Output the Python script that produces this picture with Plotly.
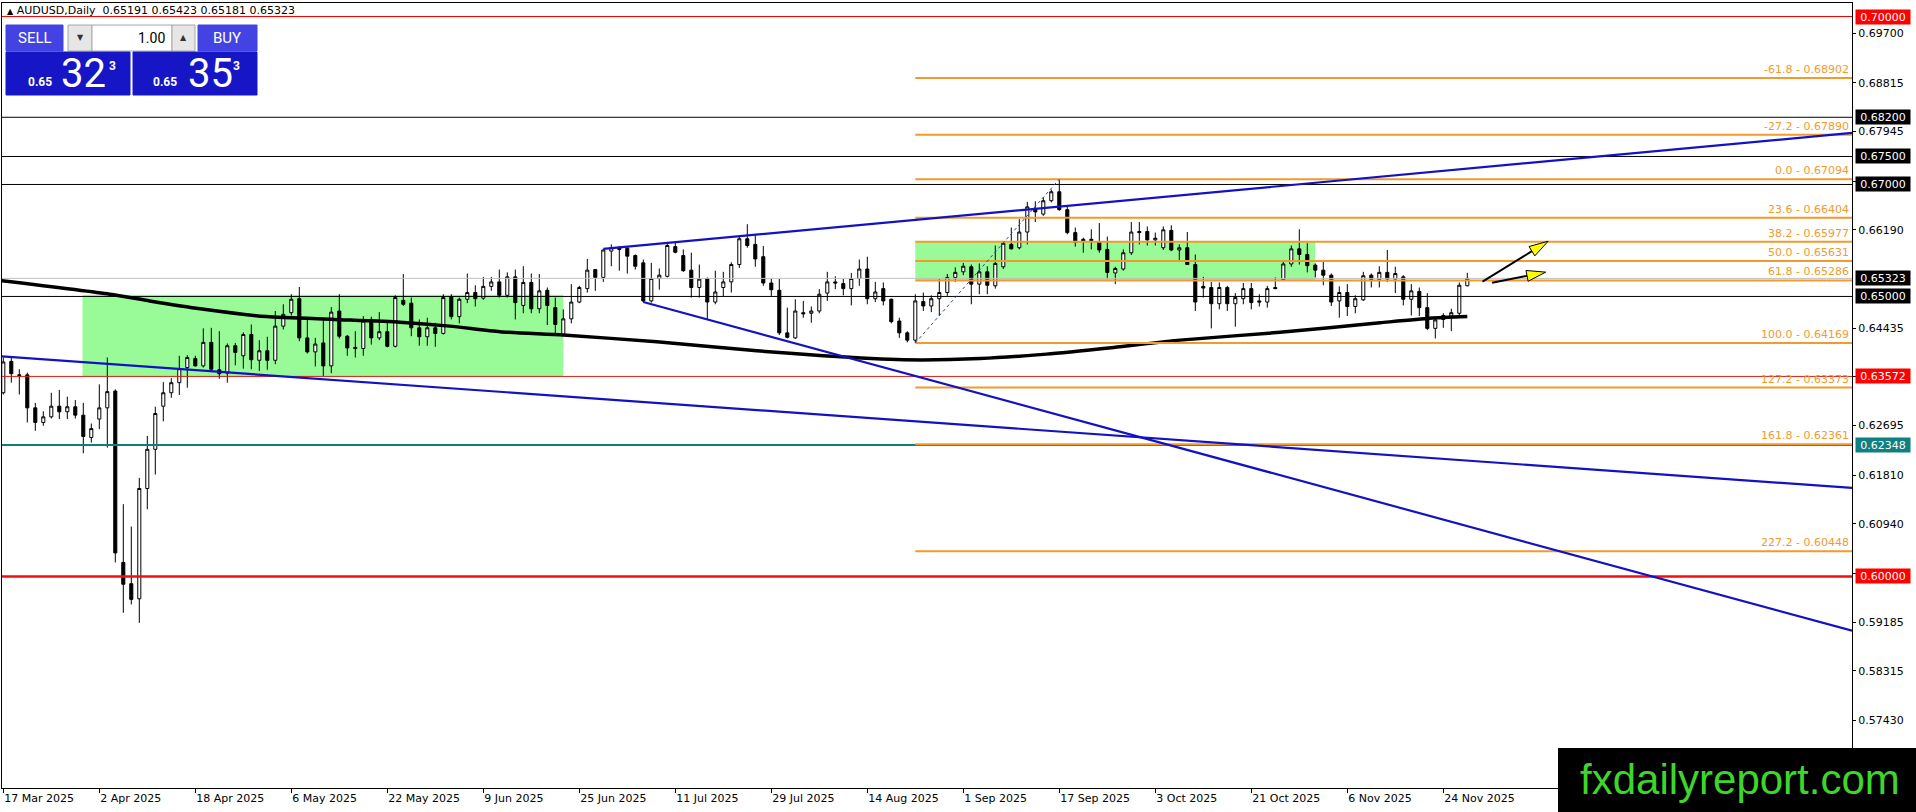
import plotly.graph_objects as go

# ---------------- data ----------------
tick_bars = [0, 12, 24, 36, 48, 60, 72, 84, 96, 108, 120, 132, 144, 156, 168, 180]
tick_labels = ["17 Mar 2025", "2 Apr 2025", "18 Apr 2025", "6 May 2025", "22 May 2025", "9 Jun 2025",
               "25 Jun 2025", "11 Jul 2025", "29 Jul 2025", "14 Aug 2025", "1 Sep 2025", "17 Sep 2025",
               "3 Oct 2025", "21 Oct 2025", "6 Nov 2025", "24 Nov 2025"]

opens = [0.6328, 0.6384, 0.6360, 0.6360, 0.6301, 0.6275, 0.6285, 0.6304, 0.6294, 0.6303,
         0.6288, 0.6248, 0.6281, 0.6301, 0.6331, 0.6025, 0.5987, 0.5960, 0.6157, 0.6227,
         0.6304, 0.6328, 0.6346, 0.6373, 0.6389, 0.6376, 0.6418, 0.6369, 0.6363, 0.6412,
         0.6394, 0.6432, 0.6386, 0.6403, 0.6386, 0.6447, 0.6471, 0.6496, 0.6426, 0.6401,
         0.6417, 0.6376, 0.6474, 0.6429, 0.6409, 0.6407, 0.6459, 0.6426, 0.6437, 0.6411,
         0.6493, 0.6488, 0.6444, 0.6428, 0.6444, 0.6434, 0.6500, 0.6464, 0.6495, 0.6507,
         0.6497, 0.6518, 0.6526, 0.6502, 0.6535, 0.6484, 0.6525, 0.6478, 0.6511, 0.6480,
         0.6432, 0.6460, 0.6490, 0.6514, 0.6548, 0.6534, 0.6581, 0.6587, 0.6586, 0.6573,
         0.6560, 0.6492, 0.6532, 0.6536, 0.6589, 0.6573, 0.6547, 0.6516, 0.6532, 0.6490,
         0.6516, 0.6526, 0.6557, 0.6603, 0.6593, 0.6571, 0.6524, 0.6511, 0.6435, 0.6426,
         0.6471, 0.6470, 0.6474, 0.6506, 0.6526, 0.6523, 0.6514, 0.6532, 0.6549, 0.6496,
         0.6514, 0.6495, 0.6456, 0.6435, 0.6422, 0.6491, 0.6483, 0.6496, 0.6507, 0.6534,
         0.6544, 0.6553, 0.6522, 0.6544, 0.6519, 0.6553, 0.6593, 0.6587, 0.6615, 0.6656,
         0.6647, 0.6671, 0.6687, 0.6655, 0.6614, 0.6602, 0.6602, 0.6597, 0.6584, 0.6542,
         0.6549, 0.6578, 0.6616, 0.6616, 0.6601, 0.6587, 0.6618, 0.6583, 0.6587, 0.6557,
         0.6518, 0.6516, 0.6487, 0.6516, 0.6487, 0.6496, 0.6514, 0.6492, 0.6490, 0.6516,
         0.6530, 0.6558, 0.6585, 0.6575, 0.6556, 0.6547, 0.6538, 0.6492, 0.6507, 0.6482,
         0.6494, 0.6538, 0.6530, 0.6543, 0.6531, 0.6535, 0.6495, 0.6509, 0.6480, 0.6443,
         0.6466, 0.6465, 0.6470, 0.65191]
highs = [0.6391, 0.6392, 0.6370, 0.6364, 0.6310, 0.6295, 0.6328, 0.6333, 0.6321, 0.6315,
         0.6310, 0.6273, 0.6343, 0.6391, 0.6334, 0.6129, 0.6089, 0.6176, 0.6251, 0.6303,
         0.6347, 0.6354, 0.6394, 0.6395, 0.6394, 0.6443, 0.6444, 0.6438, 0.6416, 0.6417,
         0.6436, 0.6450, 0.6422, 0.6428, 0.6474, 0.6486, 0.6504, 0.6517, 0.6459, 0.6426,
         0.6462, 0.6481, 0.6504, 0.6431, 0.6438, 0.6465, 0.6464, 0.6472, 0.6453, 0.6502,
         0.6540, 0.6498, 0.6459, 0.6462, 0.6453, 0.6504, 0.6504, 0.6498, 0.6541, 0.6520,
         0.6535, 0.6535, 0.6548, 0.6543, 0.6548, 0.6554, 0.6541, 0.6540, 0.6516, 0.6498,
         0.6477, 0.6522, 0.6519, 0.6567, 0.6548, 0.6584, 0.6593, 0.6590, 0.6590, 0.6575,
         0.6566, 0.6560, 0.6550, 0.6596, 0.6596, 0.6584, 0.6578, 0.6557, 0.6534, 0.6546,
         0.6544, 0.6561, 0.6608, 0.6629, 0.6611, 0.6590, 0.6532, 0.6531, 0.6480, 0.6495,
         0.6492, 0.6482, 0.6513, 0.6544, 0.6536, 0.6531, 0.6542, 0.6566, 0.6571, 0.6526,
         0.6525, 0.6496, 0.6462, 0.6438, 0.6504, 0.6507, 0.6502, 0.6531, 0.6540, 0.6552,
         0.6560, 0.6557, 0.6559, 0.6554, 0.6591, 0.6599, 0.6623, 0.6638, 0.6669, 0.6670,
         0.6677, 0.6691, 0.67094, 0.6662, 0.6623, 0.6605, 0.6620, 0.6631, 0.6607, 0.6553,
         0.6584, 0.6633, 0.6633, 0.6625, 0.6614, 0.6625, 0.6627, 0.6593, 0.6615, 0.6575,
         0.6535, 0.6526, 0.6525, 0.6519, 0.6506, 0.6524, 0.6524, 0.6504, 0.6519, 0.6534,
         0.6565, 0.6591, 0.6620, 0.6595, 0.6559, 0.6564, 0.6541, 0.6518, 0.6522, 0.6502,
         0.6544, 0.6541, 0.6554, 0.6583, 0.6553, 0.6538, 0.6522, 0.6516, 0.6506, 0.6460,
         0.6470, 0.6478, 0.6525, 0.65423]
lows = [0.6325, 0.6346, 0.6325, 0.6275, 0.6260, 0.6269, 0.6282, 0.6281, 0.6281, 0.6282,
        0.6220, 0.6239, 0.6263, 0.6230, 0.6025, 0.5935, 0.5950, 0.5917, 0.6120, 0.6182,
        0.6277, 0.6319, 0.6324, 0.6337, 0.6375, 0.6373, 0.6365, 0.6353, 0.6346, 0.6377,
        0.6371, 0.6370, 0.6367, 0.6369, 0.6379, 0.6441, 0.6466, 0.6420, 0.6398, 0.6375,
        0.6358, 0.6363, 0.6425, 0.6394, 0.6391, 0.6394, 0.6414, 0.6422, 0.6409, 0.6409,
        0.6483, 0.6429, 0.6412, 0.6412, 0.6410, 0.6432, 0.6459, 0.6452, 0.6488, 0.6482,
        0.6494, 0.6510, 0.6498, 0.6498, 0.6459, 0.6470, 0.6470, 0.6470, 0.6449, 0.6434,
        0.6429, 0.6452, 0.6488, 0.6507, 0.6510, 0.6526, 0.6554, 0.6546, 0.6541, 0.6548,
        0.6489, 0.6489, 0.6512, 0.6534, 0.6577, 0.6544, 0.6498, 0.6498, 0.6459, 0.6486,
        0.6500, 0.6507, 0.6551, 0.6587, 0.6553, 0.6519, 0.6500, 0.6431, 0.6425, 0.6424,
        0.6462, 0.6453, 0.6470, 0.6492, 0.6513, 0.6502, 0.6484, 0.6519, 0.6486, 0.6490,
        0.6484, 0.6452, 0.6426, 0.6418, 0.64169, 0.6474, 0.6472, 0.6465, 0.6501, 0.6526,
        0.6538, 0.6486, 0.6504, 0.6504, 0.6514, 0.6549, 0.6584, 0.6584, 0.6593, 0.6633,
        0.6644, 0.6668, 0.6653, 0.6611, 0.6589, 0.6578, 0.6584, 0.6578, 0.6531, 0.6522,
        0.6546, 0.6574, 0.6593, 0.6591, 0.6591, 0.6583, 0.6581, 0.6564, 0.6557, 0.6474,
        0.6498, 0.6443, 0.6477, 0.6474, 0.6446, 0.6486, 0.6477, 0.6482, 0.6480, 0.6513,
        0.6528, 0.6553, 0.6557, 0.6543, 0.6534, 0.6520, 0.6483, 0.6462, 0.6465, 0.6470,
        0.6492, 0.6516, 0.6516, 0.6526, 0.6506, 0.6484, 0.6466, 0.6465, 0.6440, 0.6425,
        0.6444, 0.6438, 0.6466, 0.65181]
closes = [0.6383, 0.6362, 0.6359, 0.6301, 0.6275, 0.6285, 0.6304, 0.6294, 0.6303, 0.6288,
          0.6250, 0.6264, 0.6301, 0.6330, 0.6042, 0.5986, 0.5959, 0.6157, 0.6227, 0.6291,
          0.6328, 0.6346, 0.6371, 0.6391, 0.6376, 0.6418, 0.6370, 0.6362, 0.6412, 0.6400,
          0.6432, 0.6387, 0.6403, 0.6386, 0.6447, 0.6468, 0.6495, 0.6426, 0.6401, 0.6415,
          0.6376, 0.6472, 0.6429, 0.6408, 0.6407, 0.6456, 0.6426, 0.6437, 0.6411, 0.6498,
          0.6486, 0.6444, 0.6428, 0.6444, 0.6434, 0.6498, 0.6464, 0.6495, 0.6507, 0.6496,
          0.6518, 0.6526, 0.6502, 0.6535, 0.6489, 0.6525, 0.6478, 0.6510, 0.6484, 0.6450,
          0.6460, 0.6490, 0.6516, 0.6547, 0.6534, 0.6583, 0.6587, 0.6584, 0.6572, 0.6554,
          0.6492, 0.6532, 0.6538, 0.6591, 0.6579, 0.6546, 0.6516, 0.6531, 0.6490, 0.6508,
          0.6526, 0.6557, 0.6603, 0.6591, 0.6567, 0.6524, 0.6512, 0.6435, 0.6427, 0.6474,
          0.6469, 0.6474, 0.6504, 0.6526, 0.6524, 0.6514, 0.6532, 0.6549, 0.6496, 0.6508,
          0.6492, 0.6455, 0.6435, 0.6422, 0.6492, 0.6483, 0.6496, 0.6507, 0.6534, 0.6543,
          0.6554, 0.6522, 0.6544, 0.6520, 0.6559, 0.6595, 0.6585, 0.6615, 0.6660, 0.6651,
          0.6671, 0.6687, 0.6655, 0.6614, 0.6597, 0.6599, 0.6600, 0.6583, 0.6543, 0.6550,
          0.6578, 0.6615, 0.6614, 0.6601, 0.6604, 0.6619, 0.6583, 0.6587, 0.6557, 0.6490,
          0.6515, 0.6487, 0.6516, 0.6487, 0.6498, 0.6514, 0.6489, 0.6490, 0.6514, 0.6514,
          0.6558, 0.6585, 0.6575, 0.6555, 0.6547, 0.6538, 0.6490, 0.6507, 0.6482, 0.6496,
          0.6537, 0.6530, 0.6543, 0.6531, 0.6541, 0.6495, 0.6510, 0.6480, 0.6443, 0.6458,
          0.6459, 0.6471, 0.6520, 0.65323]

# 200-period moving average, sampled along the drawn curve
ma_bars = [-0.2, 13.3, 18.3, 24.6, 32.9, 41.3, 49.6, 55.8, 62.1, 70.0, 81.7, 94.2, 102.5,
           112.5, 122.1, 130.4, 138.8, 147.1, 159.6, 172.1, 178.3, 183.0]
ma_vals = [0.6528, 0.6504, 0.6492, 0.6478, 0.6464, 0.6459, 0.6454, 0.6447, 0.6437, 0.6431,
           0.6419, 0.6403, 0.6394, 0.6387, 0.6389, 0.6397, 0.6409, 0.6422, 0.6436, 0.6453,
           0.6461, 0.6464]

# horizontal price lines
hline_prices = [0.70000, 0.68200, 0.67500, 0.67000, 0.65323, 0.65000, 0.63572, 0.62348, 0.60000]
hline_colors = ["#FF0000", "#000000", "#000000", "#000000", "#C0C0C0", "#000000", "#D81E10",
                "#0E7E7E", "#F01010"]
hline_widths = [1, 1, 1, 1, 1, 1, 1, 2, 2.5]
label_texts = ["0.70000", "0.68200", "0.67500", "0.67000", "0.65323", "0.65000", "0.63572",
               "0.62348", "0.60000"]
label_bgs = ["#FF0000", "#000000", "#000000", "#000000", "#000000", "#000000", "#FF0000",
             "#0E8080", "#FF0000"]

# Fibonacci retracement
fib_levels = ["-61.8", "-27.2", "0.0", "23.6", "38.2", "50.0", "61.8", "100.0", "127.2", "161.8", "227.2"]
fib_prices = [0.68902, 0.67890, 0.67094, 0.66404, 0.65977, 0.65631, 0.65286, 0.64169, 0.63373,
              0.62361, 0.60448]
fib_start_bar = 114
fib_diag_bars = [114, 132]
fib_diag_prices = [0.64169, 0.67094]

# trend lines: (bar0, price0, bar1, price1)
trend_bar0 = [75.0, 80.0, -0.16]
trend_p0 = [0.6585, 0.6490, 0.6393]
trend_bar1 = [231.09, 231.09, 231.09]
trend_p1 = [0.6792, 0.5903, 0.6158]

# green zones
rect_bar0 = [9.9, 114.0]
rect_bar1 = [70.0, 164.0]
rect_low = [0.63572, 0.65286]
rect_high = [0.65030, 0.65977]

# yellow arrows (tail -> tip)
arrow_tail_bar = [184.9, 186.1]
arrow_tail_p = [0.65266, 0.65243]
arrow_tip_bar = [193.1, 192.8]
arrow_tip_p = [0.65986, 0.65434]

y_ticks = [0.69700, 0.68815, 0.67945, 0.67060, 0.66190, 0.64435, 0.63565, 0.62695, 0.61810,
           0.60940, 0.60055, 0.59185, 0.58315, 0.57430]

symbol = "AUDUSD,Daily"
last_ohlc = ["0.65191", "0.65423", "0.65181", "0.65323"]
bid_big, ask_big = "32", "35"

# ---------------- layout calibration ----------------
W, H = 1916, 812
ML, MR, MT, MB = 2, 64, 3, 24
PW, PH = W - ML - MR, H - MT - MB
BAR_X0, BAR_W = 3.3, 8.0
Y_REF_PX, Y_REF_P, PX_PER_P = 33.3, 0.697, 5599.0


def bar_from_px(px):
    return (px - BAR_X0) / BAR_W


def price_from_px(py):
    return Y_REF_P - (py - Y_REF_PX) / PX_PER_P


def px_of_bar(b):
    return BAR_X0 + BAR_W * b


def px_of_price(p):
    return Y_REF_PX + (Y_REF_P - p) * PX_PER_P


def fx(px):
    return (px - ML) / PW


def fy(py):
    return (H - MB - py) / PH


x_range = [bar_from_px(ML), bar_from_px(W - MR)]
y_range = [price_from_px(H - MB), price_from_px(MT)]

ORANGE = "#F29A2E"
BLUE = "#1212C4"

fig = go.Figure()
shapes = []
annos = []

# green zones (background)
for b0, b1, lo, hi in zip(rect_bar0, rect_bar1, rect_low, rect_high):
    shapes.append(dict(type="rect", xref="x", yref="y", x0=b0, x1=b1, y0=lo, y1=hi,
                       fillcolor="#98FB98", line=dict(width=0), layer="below"))

# moving average
fig.add_trace(go.Scatter(x=ma_bars, y=ma_vals, mode="lines",
                         line=dict(color="black", width=3.5, shape="spline", smoothing=0.6),
                         hoverinfo="skip", showlegend=False))

# candles
bars = list(range(len(opens)))
fig.add_trace(go.Candlestick(x=bars, open=opens, high=highs, low=lows, close=closes,
                             increasing=dict(line=dict(color="black", width=1), fillcolor="white"),
                             decreasing=dict(line=dict(color="black", width=1), fillcolor="black"),
                             whiskerwidth=0, showlegend=False))

# horizontal lines
for p, c, w in zip(hline_prices, hline_colors, hline_widths):
    shapes.append(dict(type="line", xref="paper", yref="y", x0=0, x1=1, y0=p, y1=p,
                       line=dict(color=c, width=w), layer="above"))

# fibonacci levels
for lv, p in zip(fib_levels, fib_prices):
    shapes.append(dict(type="line", xref="x", yref="y", x0=fib_start_bar, x1=x_range[1], y0=p, y1=p,
                       line=dict(color=ORANGE, width=2), layer="above"))
    annos.append(dict(xref="paper", yref="y", x=1, y=p, xanchor="right", yanchor="bottom",
                      xshift=-1, yshift=0, text=f"{lv} - {p:.5f}", showarrow=False,
                      font=dict(family="DejaVu Sans", size=11, color=ORANGE)))
shapes.append(dict(type="line", xref="x", yref="y", x0=fib_diag_bars[0], x1=fib_diag_bars[1],
                   y0=fib_diag_prices[0], y1=fib_diag_prices[1],
                   line=dict(color="#2A40B0", width=1, dash="dot"), layer="above"))

# trend lines
for b0, p0, b1, p1 in zip(trend_bar0, trend_p0, trend_bar1, trend_p1):
    shapes.append(dict(type="line", xref="x", yref="y", x0=b0, x1=b1, y0=p0, y1=p1,
                       line=dict(color=BLUE, width=2.2), layer="above"))

# arrows
for tb, tp, hb, hp in zip(arrow_tail_bar, arrow_tail_p, arrow_tip_bar, arrow_tip_p):
    tx, ty = px_of_bar(tb), px_of_price(tp)
    hx, hy = px_of_bar(hb), px_of_price(hp)
    dx, dy = hx - tx, hy - ty
    ln = (dx * dx + dy * dy) ** 0.5
    ux, uy = dx / ln, dy / ln
    nx, ny = -uy, ux
    hl, hw = 19.0, 5.5
    bx, by = hx - hl * ux, hy - hl * uy
    shapes.append(dict(type="line", xref="x", yref="y", x0=tb, y0=tp,
                       x1=bar_from_px(bx), y1=price_from_px(by),
                       line=dict(color="black", width=2), layer="above"))
    pts = [(hx, hy), (bx + hw * nx, by + hw * ny), (bx - hw * nx, by - hw * ny)]
    path = "M " + " L ".join(f"{bar_from_px(a):.4f},{price_from_px(b):.6f}" for a, b in pts) + " Z"
    shapes.append(dict(type="path", xref="x", yref="y", path=path, fillcolor="#FFFF00",
                       line=dict(color="black", width=1), layer="above"))

# price labels on the axis
for t, bg, p in zip(label_texts, label_bgs, hline_prices):
    annos.append(dict(xref="paper", yref="y", x=1, y=p, xanchor="left", yanchor="middle",
                      xshift=3, text=t, showarrow=False, bgcolor=bg, width=52, height=12,
                      borderpad=1, align="center",
                      font=dict(family="DejaVu Sans", size=11, color="white")))

# header
annos.append(dict(xref="paper", yref="paper", x=fx(5), y=fy(11), xanchor="left", yanchor="middle",
                  showarrow=False,
                  text="<span style='font-size:8px'>\u25B2</span> " + symbol + "\u00a0\u00a0" + " ".join(last_ohlc),
                  font=dict(family="DejaVu Sans", size=11, color="black")))

# one-click trading panel
panel = [(6, 25, 63, 51, "#4343E3", "#4343E3"), (68, 25, 92, 51, "#E6E6E6", "#A8A8A8"),
         (92, 25, 172, 51, "#FFFFFF", "#A8A8A8"), (172, 25, 195, 51, "#E6E6E6", "#A8A8A8"),
         (198, 25, 257, 51, "#4343E3", "#4343E3"), (6, 52, 130, 95, "#1616C6", "#1616C6"),
         (133, 52, 257, 95, "#1616C6", "#1616C6")]
for x0, y0, x1, y1, fc, lc in panel:
    shapes.append(dict(type="rect", xref="paper", yref="paper", x0=fx(x0), x1=fx(x1), y0=fy(y1), y1=fy(y0),
                       fillcolor=fc, line=dict(color=lc, width=1), layer="above"))


def ptxt(x, y, t, size, color, anchor="center", bold=False, fam="Roboto"):
    annos.append(dict(xref="paper", yref="paper", x=fx(x), y=fy(y), xanchor=anchor, yanchor="middle",
                      showarrow=False, text=(f"<b>{t}</b>" if bold else t),
                      font=dict(family=fam, size=size, color=color)))


ptxt(35, 38, "SELL", 15, "white")
ptxt(227, 38, "BUY", 15, "white")
ptxt(80, 38, "\u25BC", 8, "#333333", fam="DejaVu Sans")
ptxt(183, 38, "\u25B2", 8, "#333333", fam="DejaVu Sans")
ptxt(167, 38, "1.00", 14, "black", anchor="right")
for (xs, xb, xsup, big) in [(26, 59, 107, bid_big), (151, 186, 231, ask_big)]:
    ptxt(xs, 82, "0.65", 12, "white", anchor="left", bold=True)
    ptxt(xb, 74, big, 40, "white", anchor="left")
    ptxt(xsup, 66, "3", 12, "white", anchor="left", bold=True)

# watermark
shapes.append(dict(type="rect", xref="paper", yref="paper", x0=fx(1558), x1=fx(W + 2), y0=fy(H + 2), y1=fy(748),
                   fillcolor="black", line=dict(width=0), layer="above"))
annos.append(dict(xref="paper", yref="paper", x=fx(1740), y=fy(779), xanchor="center", yanchor="middle",
                  showarrow=False, text="fxdailyreport.com",
                  font=dict(family="Liberation Sans", size=42, color="#3ED62A")))

fig.update_layout(
    width=W, height=H, margin=dict(l=ML, r=MR, t=MT, b=MB),
    paper_bgcolor="white", plot_bgcolor="white", boxgap=0.45,
    shapes=shapes, annotations=annos, showlegend=False,
    xaxis=dict(range=x_range, rangeslider=dict(visible=False), showgrid=False, zeroline=False,
               tickmode="array", tickvals=tick_bars, ticktext=tick_labels, ticks="outside", ticklen=4,
               tickcolor="black", ticklabelposition="outside right", showline=True, linecolor="black",
               linewidth=1, mirror=True, tickfont=dict(family="DejaVu Sans", size=11, color="black"),
               fixedrange=True),
    yaxis=dict(range=y_range, side="right", showgrid=False, zeroline=False, tickmode="array",
               tickvals=y_ticks, ticktext=[f"{v:.5f}" for v in y_ticks], ticks="outside", ticklen=3,
               tickcolor="black", showline=True, linecolor="black", linewidth=1, mirror=True,
               tickfont=dict(family="DejaVu Sans", size=11, color="black"), fixedrange=True),
)

fig.write_html("out.html", config={"displayModeBar": False},
               post_script="document.body.style.margin='0px';")
